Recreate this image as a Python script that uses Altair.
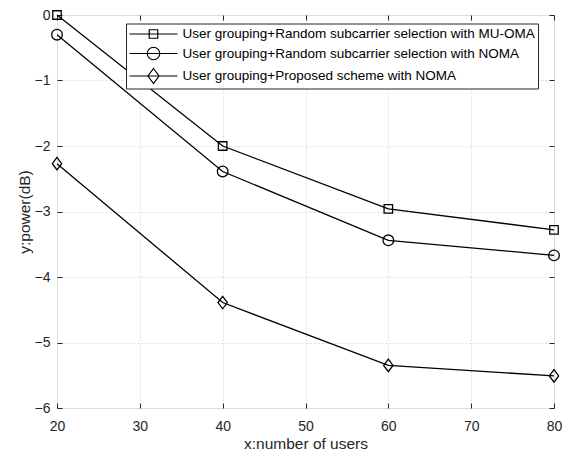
import altair as alt
import pandas as pd

x_users = [20, 40, 60, 80]
oma_random = [0.0, -2.0, -2.96, -3.28]
noma_random = [-0.3, -2.39, -3.44, -3.67]
noma_proposed = [-2.27, -4.39, -5.35, -5.51]
series_names = [
    "User grouping+Random subcarrier selection with MU-OMA",
    "User grouping+Random subcarrier selection with NOMA",
    "User grouping+Proposed scheme with NOMA",
]
x_ticks = [20, 30, 40, 50, 60, 70, 80]
y_ticks = [-6, -5, -4, -3, -2, -1, 0]

rows = []
for name, vals in zip(series_names, [oma_random, noma_random, noma_proposed]):
    for xv, yv in zip(x_users, vals):
        rows.append({"x": xv, "y": yv, "series": name})
df = pd.DataFrame(rows)

AX = "#262626"
FONT = "Liberation Sans"

xscale = alt.Scale(domain=[20, 80], nice=False, zero=False)
yscale = alt.Scale(domain=[-6, 0], nice=False, zero=False)

x_main = alt.X("x:Q", scale=xscale, axis=alt.Axis(
    values=x_ticks, title="x:number of users", offset=-5, tickSize=5, domain=False,
    labelPadding=11, titlePadding=3, grid=True, gridColor="#dcdcdc", gridDash=[2, 2],
    labelFlush=False, labelOverlap=False,
    tickColor=AX, labelColor=AX, titleColor=AX, labelFontSize=14, titleFontSize=15.5,
    labelFont=FONT, titleFont=FONT, titleFontWeight="normal"))
y_main = alt.Y("y:Q", scale=yscale, axis=alt.Axis(
    values=y_ticks, title="y:power(dB)", offset=-5, tickSize=5, domain=False,
    labelPadding=7, titleX=-38, titleY=196.5, titleBaseline="middle", grid=True,
    labelFlush=False, labelOverlap=False,
    gridColor="#dcdcdc", gridDash=[2, 2], tickColor=AX, labelColor=AX, titleColor=AX,
    labelFontSize=14, titleFontSize=15.5, labelFont=FONT, titleFont=FONT,
    titleFontWeight="normal"))

pt_shapes = ["square", "circle", "M0,-1L0.75,0L0,1L-0.75,0Z"]
pt_sizes = [72, 156, 225]

lines = alt.Chart(df).mark_line(color="black", strokeWidth=1.3).encode(
    x=x_main, y=y_main, detail="series:N")

points = alt.Chart(df).mark_point(filled=False, color="black", strokeWidth=1.3, opacity=1).encode(
    x=alt.X("x:Q", scale=xscale, axis=None),
    y=alt.Y("y:Q", scale=yscale, axis=None),
    shape=alt.Shape("series:N", scale=alt.Scale(domain=series_names, range=pt_shapes), legend=None),
    size=alt.Size("series:N", scale=alt.Scale(domain=series_names, range=pt_sizes), legend=None),
)

leg_shapes = [
    "M-3.43,0H3.43M-0.61,-0.61H0.61V0.61H-0.61Z",
    "M-3.43,0H3.43M-0.89,0A0.89,0.89,0,1,0,0.89,0A0.89,0.89,0,1,0,-0.89,0Z",
    "M-3.43,0H3.43M0,-1.07L0.8,0L0,1.07L-0.8,0Z",
]

legend_layer = alt.Chart(df).transform_filter(alt.datum.x < 0).mark_point(
    filled=False, color="black", strokeWidth=1.2, size=196).encode(
    x=alt.X("x:Q", scale=xscale, axis=alt.Axis(
        orient="top", values=x_ticks, labels=False, title=None, offset=-5, tickSize=5,
        domain=False, grid=False, tickColor=AX)),
    y=alt.Y("y:Q", scale=yscale, axis=alt.Axis(
        orient="right", values=y_ticks, labels=False, title=None, offset=-5, tickSize=5,
        domain=False, grid=False, tickColor=AX)),
    shape=alt.Shape("series:N", scale=alt.Scale(domain=series_names, range=leg_shapes),
                    legend=alt.Legend(
                        title=None, orient="none", legendX=69, legendY=8.5,
                        fillColor="white", strokeColor="#262626", padding=2.5,
                        symbolSize=196, symbolStrokeColor="black", symbolFillColor="transparent",
                        symbolStrokeWidth=1.2, symbolOpacity=1, symbolOffset=17,
                        labelOffset=21, labelFont=FONT, labelFontSize=13.5,
                        labelColor="black", labelLimit=500, rowPadding=3.5)),
)

chart = alt.layer(lines, points, legend_layer).resolve_scale(
    shape="independent", size="independent").resolve_axis(
    x="independent", y="independent").properties(
    width=497, height=393,
    autosize=alt.AutoSizeParams(type="none"),
    padding={"left": 49, "top": 7, "right": 18, "bottom": 43},
).configure_view(stroke=AX, strokeWidth=1).configure(background="white")

chart.save("out.html", embed_options={"renderer": "svg", "actions": False})
